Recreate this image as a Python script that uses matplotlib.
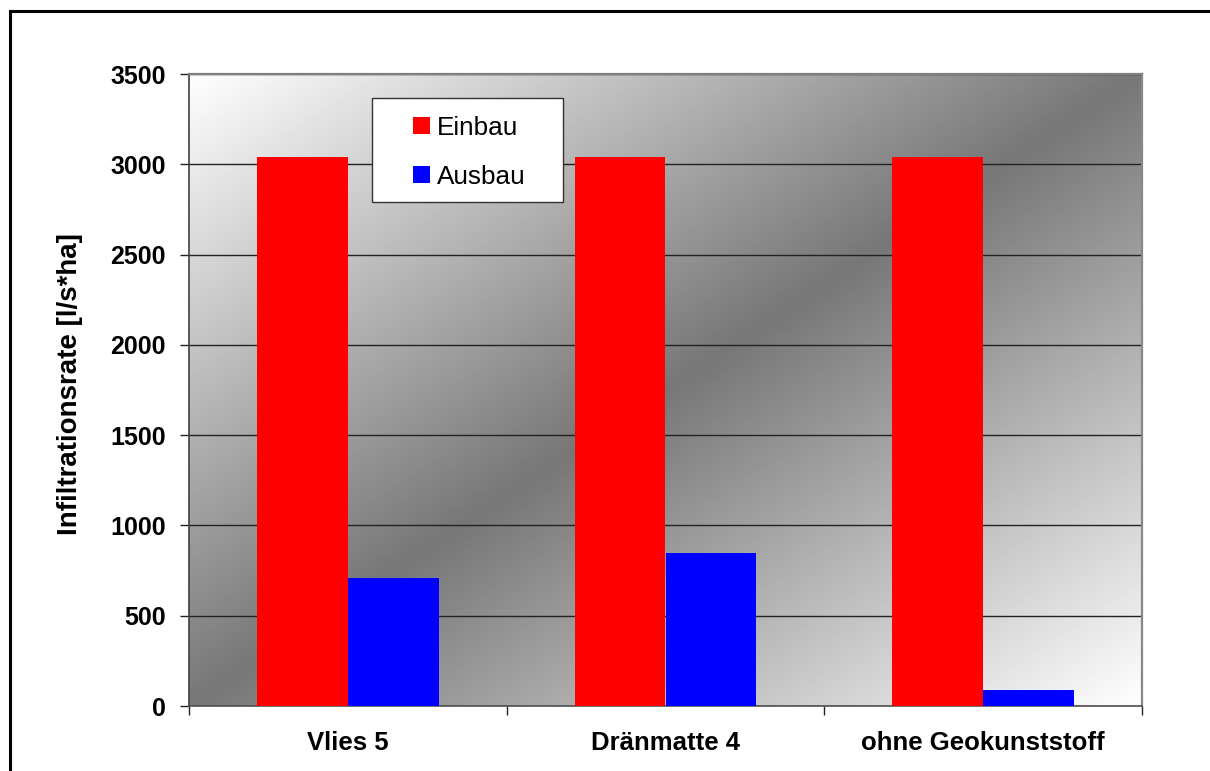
import numpy as np
import matplotlib.pyplot as plt
import matplotlib.lines as mlines
import matplotlib.patches as mpatches

plt.rcParams['font.family'] = ['Liberation Sans', 'DejaVu Sans']

categories = ['Vlies 5', 'Dränmatte 4', 'ohne Geokunststoff']
series_names = ['Einbau', 'Ausbau']
einbau = [3040, 3040, 3040]
ausbau = [707, 845, 86]
colors = ['#ff0000', '#0000ff']
yticks = [0, 500, 1000, 1500, 2000, 2500, 3000, 3500]

fig = plt.figure(figsize=(12.1, 7.71), dpi=100)
ax = fig.add_axes([189/1210, 65/771, 953/1210, 632/771])

# diagonal grey shading: light in top-left / bottom-right corners, dark along the other diagonal
u, v = np.meshgrid(np.linspace(0, 1, 400), np.linspace(1, 0, 400))
shade = 0.467 + 0.533 * np.abs(u - v)
ax.imshow(shade, cmap='gray', vmin=0, vmax=1, extent=[0, 1, 0, 1],
          transform=ax.transAxes, aspect='auto', zorder=0, interpolation='bilinear')

x = np.arange(len(categories))
w = 1 / 3.5
ax.bar(x - w/2, einbau, w, color=colors[0], label=series_names[0], zorder=3)
ax.bar(x + w/2, ausbau, w, color=colors[1], label=series_names[1], zorder=3)

ax.set_xlim(-0.5, len(categories) - 0.5)
ax.set_ylim(0, 3500)
ax.set_yticks(yticks)
ax.set_yticklabels([str(t) for t in yticks], fontsize=18, fontweight='bold')
ax.yaxis.grid(True, color='#222222', lw=1, zorder=1)
ax.set_axisbelow(True)

ax.set_xticks(np.arange(len(categories) + 1) - 0.5)
ax.set_xticklabels([])
ax.set_xticks(x, minor=True)
ax.set_xticklabels(categories, minor=True, fontsize=18.5, fontweight='bold')
ax.tick_params(axis='x', which='minor', length=0, pad=18)
ax.tick_params(axis='x', which='major', length=6.5, width=1, color='#222222')
ax.tick_params(axis='y', length=6.5, width=1, color='#222222', pad=10)

ax.set_ylabel('Infiltrationsrate [l/s*ha]', fontsize=20, fontweight='bold', labelpad=19.5)
ax.yaxis.label.set_y(0.51)

ax.spines['left'].set_color('#404040')
ax.spines['left'].set_linewidth(1.2)
ax.spines['bottom'].set_color('#505050')
ax.spines['bottom'].set_linewidth(1.2)
ax.spines['top'].set_color('#808080')
ax.spines['top'].set_linewidth(1.6)
ax.spines['right'].set_color('#888888')
ax.spines['right'].set_linewidth(1.6)

# legend box
ax.add_patch(mpatches.Rectangle((0.192, 0.797), 0.2, 0.165, transform=ax.transAxes,
                                facecolor='white', edgecolor='#333333', lw=1, zorder=4))
leg = ax.legend(loc='center', bbox_to_anchor=(0.294, 0.876), frameon=False,
                fontsize=18.8, handlelength=0.65, handleheight=0.65,
                handletextpad=0.27, labelspacing=0.96)
leg.set_zorder(5)

# outer chart frame
fig.add_artist(mlines.Line2D([10/1210, 10/1210], [0, 1 - 11/771], color='black', lw=2.2,
                             transform=fig.transFigure))
fig.add_artist(mlines.Line2D([10/1210, 1], [1 - 11/771, 1 - 11/771], color='black', lw=2.2,
                             transform=fig.transFigure))

fig.savefig('out.png', dpi=100)
